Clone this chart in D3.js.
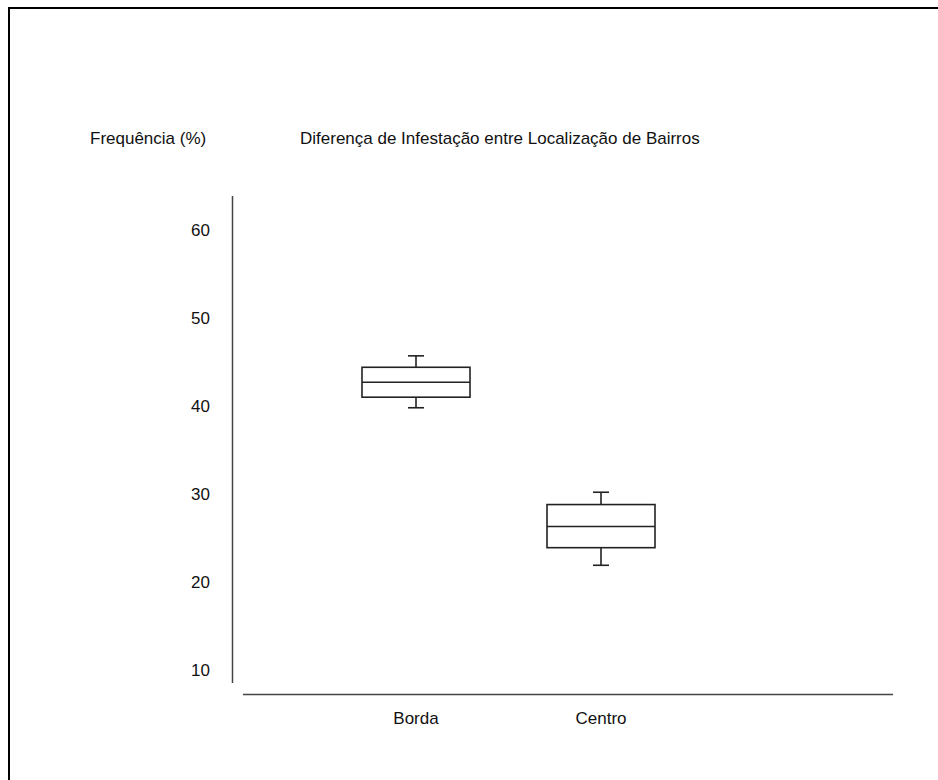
<!DOCTYPE html>
<html>
<head>
<meta charset="utf-8">
<script src="https://cdn.jsdelivr.net/npm/d3@7"></script>
<style>
  html, body { margin: 0; padding: 0; background: #fff; }
  svg { display: block; }
  text { font-family: "Liberation Sans", Arial, sans-serif; font-size: 17px; fill: #111; }
</style>
</head>
<body>
<svg id="chart" width="938" height="780"></svg>
<script>
// Neighbourhood location groups
const categories = ["Borda", "Centro"];
// Box statistics per group (frequency, %)
const whiskerLow  = [39.8, 21.9];
const quartile1   = [41.0, 23.9];
const medians     = [42.7, 26.3];
const quartile3   = [44.4, 28.8];
const whiskerHigh = [45.7, 30.2];
// Value axis ticks
const yTicks = [10, 20, 30, 40, 50, 60];

const title = "Diferença de Infestação entre Localização de Bairros";
const yLabel = "Frequência (%)";

const svg = d3.select("#chart");

// Frame: top and left edges only
svg.append("line").attr("x1", 9).attr("x2", 938).attr("y1", 8).attr("y2", 8)
  .attr("stroke", "#000").attr("stroke-width", 2);
svg.append("line").attr("x1", 9).attr("x2", 9).attr("y1", 7).attr("y2", 780)
  .attr("stroke", "#000").attr("stroke-width", 2);

const y = d3.scaleLinear().domain([10, 60]).range([670, 230]);
const x = d3.scalePoint().domain(categories).range([416, 601]);

// Vertical axis line (no tick marks)
svg.append("line").attr("x1", 232.5).attr("x2", 232.5).attr("y1", 196).attr("y2", 683)
  .attr("stroke", "#444").attr("stroke-width", 1.5);
// Horizontal baseline
svg.append("line").attr("x1", 243).attr("x2", 893).attr("y1", 694.5).attr("y2", 694.5)
  .attr("stroke", "#444").attr("stroke-width", 1.5);

// Tick labels
svg.append("g").selectAll("text").data(yTicks).join("text")
  .attr("x", 210).attr("y", d => y(d)).attr("dy", "0.36em")
  .attr("text-anchor", "end").text(d => d);

svg.append("g").selectAll("text").data(categories).join("text")
  .attr("x", d => x(d)).attr("y", 718).attr("dy", "0.36em")
  .attr("text-anchor", "middle").text(d => d);

// Titles
svg.append("text").attr("x", 90).attr("y", 138).attr("dy", "0.36em").text(yLabel);
svg.append("text").attr("x", 300).attr("y", 138).attr("dy", "0.36em").text(title);

// Box plots
const halfBox = 54, halfCap = 8;
const boxes = categories.map((c, i) => ({
  c, lo: whiskerLow[i], q1: quartile1[i], med: medians[i], q3: quartile3[i], hi: whiskerHigh[i]
}));
const g = svg.append("g").attr("stroke", "#222").attr("stroke-width", 1.6).attr("fill", "none");
const b = g.selectAll("g").data(boxes).join("g");
b.append("line").attr("x1", d => x(d.c)).attr("x2", d => x(d.c))
  .attr("y1", d => y(d.hi)).attr("y2", d => y(d.q3));
b.append("line").attr("x1", d => x(d.c)).attr("x2", d => x(d.c))
  .attr("y1", d => y(d.q1)).attr("y2", d => y(d.lo));
b.append("line").attr("x1", d => x(d.c) - halfCap).attr("x2", d => x(d.c) + halfCap)
  .attr("y1", d => y(d.hi)).attr("y2", d => y(d.hi));
b.append("line").attr("x1", d => x(d.c) - halfCap).attr("x2", d => x(d.c) + halfCap)
  .attr("y1", d => y(d.lo)).attr("y2", d => y(d.lo));
b.append("rect").attr("x", d => x(d.c) - halfBox).attr("width", halfBox * 2)
  .attr("y", d => y(d.q3)).attr("height", d => y(d.q1) - y(d.q3));
b.append("line").attr("x1", d => x(d.c) - halfBox).attr("x2", d => x(d.c) + halfBox)
  .attr("y1", d => y(d.med)).attr("y2", d => y(d.med));
</script>
</body>
</html>
